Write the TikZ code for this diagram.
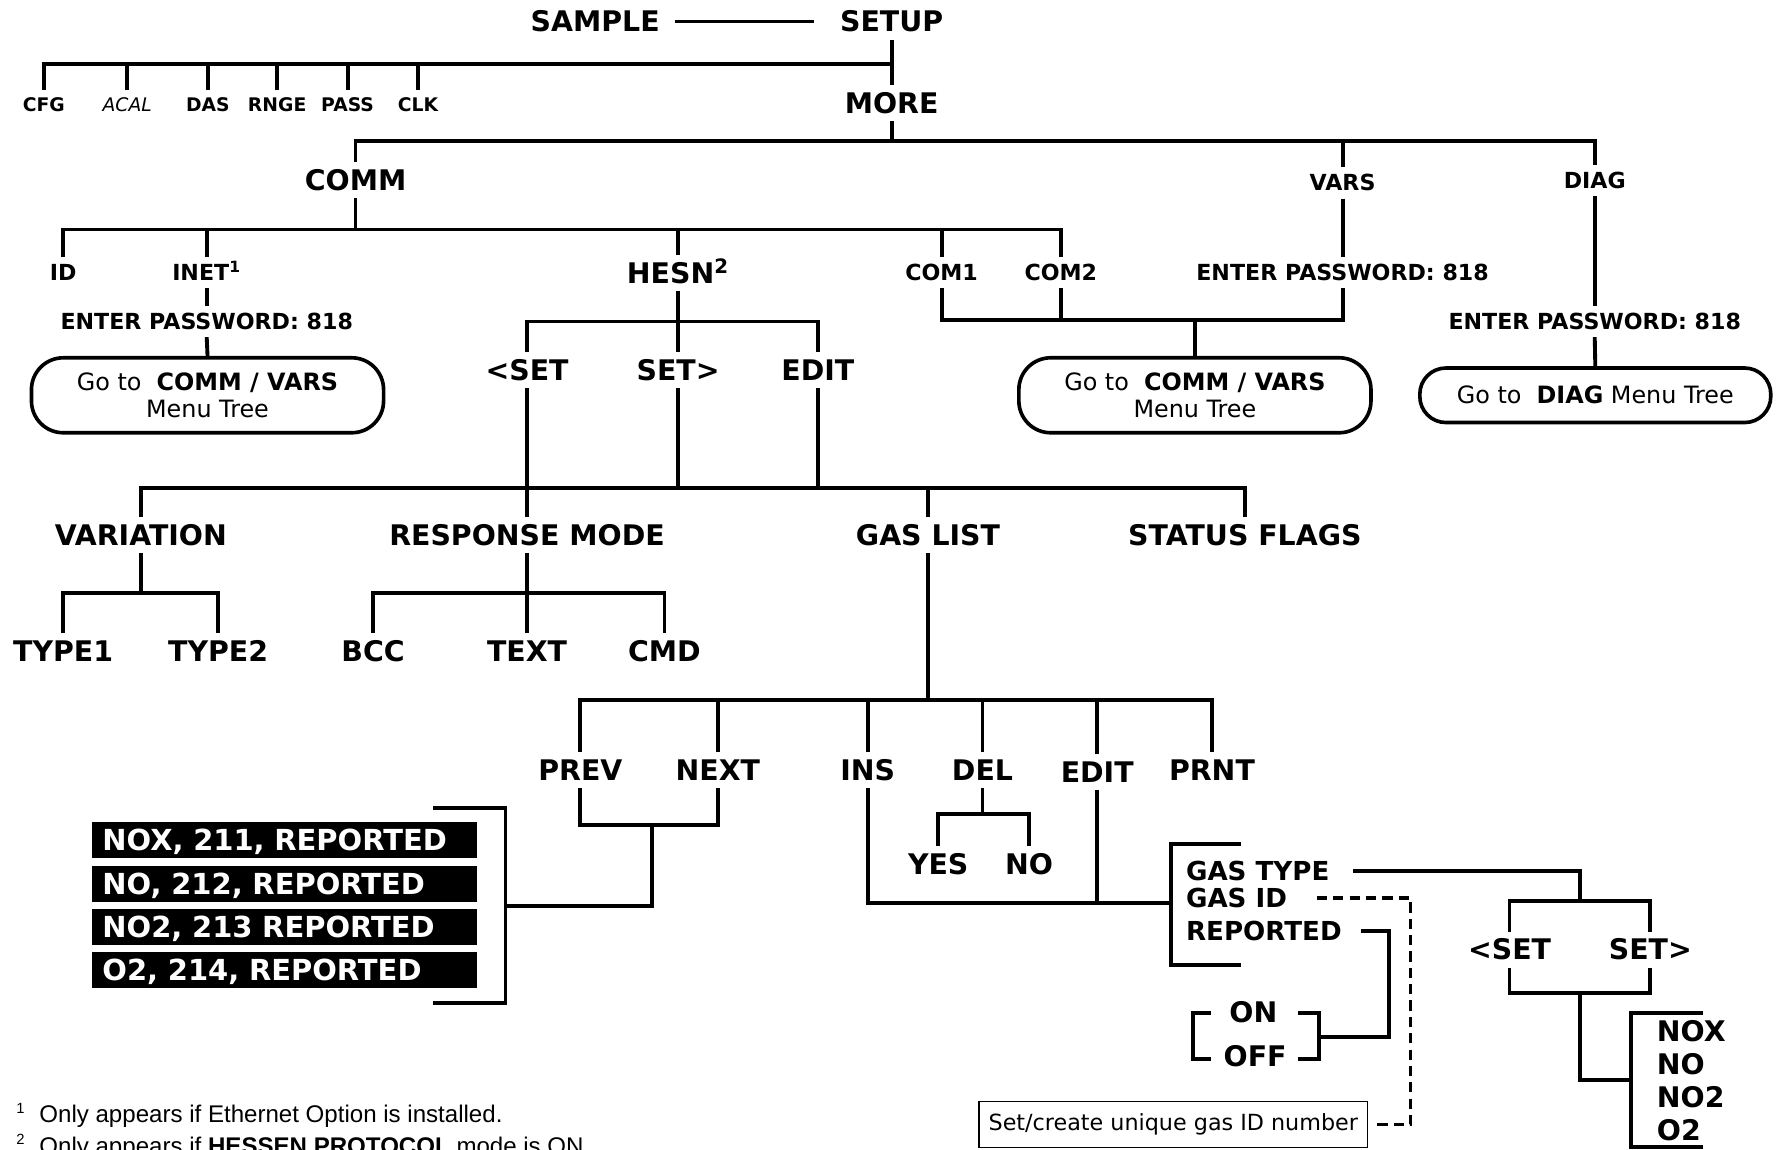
\documentclass[tikz,border=0pt]{standalone}
\usepackage{fontspec}
\setmainfont{DejaVu Sans}
\newfontfamily\notefont{Liberation Sans}

\begin{document}
\begin{tikzpicture}[x=0.5pt,y=-0.5pt,line width=1.7pt,
          lblbig/.style={font=\bfseries\fontsize{12.5}{15}\selectfont,inner sep=2.5pt,text height=9.1pt,text depth=0pt},
          lblmid/.style={font=\bfseries\fontsize{9.75}{12}\selectfont,inner sep=2.5pt,text height=7.1pt,text depth=0pt},
          lblsml/.style={font=\bfseries\fontsize{8.25}{10}\selectfont,inner sep=2.5pt,text height=6pt,text depth=0pt},
          lblitem/.style={font=\bfseries\fontsize{11.5}{14}\selectfont,inner sep=2.5pt,text height=8.4pt,text depth=0pt,anchor=west},
          gasrow/.style={fill=black,text=white,anchor=west,font=\bfseries\fontsize{12.75}{15}\selectfont,text width=160pt,inner xsep=4.75pt,minimum height=15.75pt,text height=9.3pt,text depth=0pt},
          gobox/.style={draw,rounded corners=14pt,line width=1.6pt,minimum width=155pt,minimum height=33pt,align=center,font=\fontsize{10.5}{12}\selectfont},
          footnote/.style={anchor=base west,inner sep=0pt,font=\notefont\fontsize{10.6}{12}\selectfont},
          fnmark/.style={anchor=base,inner sep=0pt,font=\notefont\fontsize{6.5}{7}\selectfont}]
          \path[use as bounding box,fill=white] (0,0) rectangle (1568,1012);

          \node[lblbig] (SAMPLE) at (524,19) {SAMPLE};
          \node[lblbig] (SETUP) at (785,19) {SETUP};
          \node[lblsml] (CFG) at (38.5,92) {CFG};
          \node[lblsml,font=\itshape\fontsize{8.25}{10}\selectfont] (ACAL) at (112,92) {ACAL};
          \node[lblsml] (DAS) at (183,92) {DAS};
          \node[lblsml] (RNGE) at (244,92) {RNGE};
          \node[lblsml] (PASS) at (306,92) {PASS};
          \node[lblsml] (CLK) at (368,92) {CLK};
          \node[lblbig] (MORE) at (785,91) {MORE};
          \node[lblbig] (COMM) at (313,158.5) {COMM};
          \node[lblmid] (VARS) at (1182,161) {VARS};
          \node[lblmid] (DIAG) at (1404,159) {DIAG};
          \node[lblmid] (ID) at (55.6,240) {ID};
          \node[lblmid] (INET) at (182,240) {INET\textsuperscript{1}};
          \node[lblbig] (HESN) at (597,240.5) {HESN\textsuperscript{2}};
          \node[lblmid] (COM1) at (829,240) {COM1};
          \node[lblmid] (COM2) at (934,240) {COM2};
          \node[lblmid] (PW1) at (182,283) {ENTER PASSWORD: 818};
          \node[lblmid] (PW2) at (1182,240) {ENTER PASSWORD: 818};
          \node[lblmid] (PW3) at (1404,283) {ENTER PASSWORD: 818};
          \node[gobox] (BOX1) at (182.7,348) {Go to~ \textbf{COMM / VARS}\\Menu Tree};
          \node[gobox] (BOX2) at (1052,348) {Go to~ \textbf{COMM / VARS}\\Menu Tree};
          \node[gobox,rounded corners=11.5pt,minimum width=154.5pt,minimum height=24pt] (BOX3) at (1404.5,348) {Go to~ \textbf{DIAG} Menu Tree};

          \node[lblbig] (SETl) at (464,326) {<SET};
          \node[lblbig] (SETr) at (597,326) {SET>};
          \node[lblbig] (EDIT) at (720,326) {EDIT};
          \node[lblbig] (VARI) at (124,471) {VARIATION};
          \node[lblbig] (RESP) at (464,471) {RESPONSE MODE};
          \node[lblbig] (GASL) at (817,471) {GAS LIST};
          \node[lblbig] (STAT) at (1096,471) {STATUS FLAGS};
          \node[lblbig] (TYPE1) at (55.6,573) {TYPE1};
          \node[lblbig] (TYPE2) at (192,573) {TYPE2};
          \node[lblbig] (BCC) at (328.5,573) {BCC};
          \node[lblbig] (TEXT) at (464,573) {TEXT};
          \node[lblbig] (CMD) at (585,573) {CMD};

          \node[lblbig] (PREV) at (511,678) {PREV};
          \node[lblbig] (NEXT) at (632,678) {NEXT};
          \node[lblbig] (INS) at (764,678) {INS};
          \node[lblbig] (DEL) at (865,678) {DEL};
          \node[lblbig] (EDITg) at (966,680) {EDIT};
          \node[lblbig] (PRNT) at (1067,678) {PRNT};
          \node[lblbig] (YES) at (826,760.5) {YES};
          \node[lblbig] (NOd) at (906,760.5) {NO};
          \node[gasrow] (G1) at (79,739.5) {NOX, 211, REPORTED};
          \node[gasrow] (G2) at (79,778) {NO, 212, REPORTED};
          \node[gasrow] (G3) at (79,816) {NO2, 213 REPORTED};
          \node[gasrow] (G4) at (79,854) {O2, 214, REPORTED};
          \node[lblitem] (GTYPE) at (1037.5,767) {GAS TYPE};
          \node[lblitem] (GID) at (1037.5,790.6) {GAS ID};
          \node[lblitem] (REP) at (1037.5,819.5) {REPORTED};
          \node[lblbig] (ON) at (1103.5,891) {ON};
          \node[lblbig] (OFF) at (1105,930) {OFF};
          \node[lblbig] (SETl2) at (1329,836) {<SET};
          \node[lblbig] (SETr2) at (1453,836) {SET>};
          \node[lblbig,anchor=west] (NOX) at (1452,908) {NOX};
          \node[lblbig,anchor=west] (NOg) at (1452,936.6) {NO};
          \node[lblbig,anchor=west] (NO2) at (1452,965.6) {NO2};
          \node[lblbig,anchor=west] (O2) at (1452,995) {O2};
          \node[draw,line width=0.6pt,minimum width=171pt,minimum height=20pt,inner sep=0pt,font=\fontsize{9.8}{12}\selectfont] (NOTE) at (1033,990) {Set/create unique gas ID number};

          \node[fnmark] (FM1) at (18,980) {1};
          \node[footnote] (FN1) at (33,988) {Only appears if Ethernet Option is installed.};
          \node[fnmark] (FM2) at (18,1008) {2};
          \node[footnote] (FN2) at (33,1016) {Only appears if \textbf{HESSEN PROTOCOL} mode is ON.};

          \draw[line width=1.5pt] ([xshift=3.5pt]SAMPLE.east) -- ([xshift=-8.3pt]SETUP.west);
          \coordinate (jSETUP) at (785,56);
          \draw (SETUP.south) -- (MORE.north);
          \draw (CFG.north) |- (jSETUP);
          \draw (ACAL.north) -- (ACAL.north |- jSETUP);
          \draw (DAS.north) -- (DAS.north |- jSETUP);
          \draw (RNGE.north) -- (RNGE.north |- jSETUP);
          \draw (PASS.north) -- (PASS.north |- jSETUP);
          \draw (CLK.north) -- (CLK.north |- jSETUP);

          \coordinate (jMORE) at (785,124);
          \draw (MORE.south) -- (jMORE);
          \draw (COMM.north) |- (jMORE) -| (DIAG.north);
          \draw (VARS.north) -- (VARS.north |- jMORE);
          \draw (VARS.south) -- (PW2.north);
          \draw (DIAG.south) -- (PW3.north);
          \draw (PW3.south) -- (BOX3.north);

          \coordinate (jCOMM) at (313,202);
          \draw (COMM.south) -- (jCOMM);
          \draw (ID.north) |- (jCOMM) -| (COM2.north);
          \draw (INET.north) -- (INET.north |- jCOMM);
          \draw (HESN.north) -- (HESN.north |- jCOMM);
          \draw (COM1.north) -- (COM1.north |- jCOMM);
          \draw (INET.south) -- (PW1.north);
          \draw (PW1.south) -- (BOX1.north);

          \coordinate (jCOM) at (1052,282);
          \draw (COM1.south) |- (jCOM) -| (PW2.south);
          \draw (COM2.south) -- (COM2.south |- jCOM);
          \draw (jCOM) -- (BOX2.north);

          \coordinate (jHESN) at (597,283);
          \draw (HESN.south) -- (SETr.north);
          \draw (SETl.north) |- (jHESN) -| (EDIT.north);

          \coordinate (jSET) at (464,430);
          \draw (SETl.south) -- (RESP.north);
          \draw (VARI.north) |- (jSET) -| (STAT.north);
          \draw (SETr.south) -- (SETr.south |- jSET);
          \draw (EDIT.south) -- (EDIT.south |- jSET);
          \draw (GASL.north) -- (GASL.north |- jSET);

          \coordinate (jVARI) at (124,522);
          \draw (VARI.south) -- (jVARI);
          \draw (TYPE1.north) |- (jVARI) -| (TYPE2.north);
          \coordinate (jRESP) at (464,522);
          \draw (RESP.south) -- (TEXT.north);
          \draw (BCC.north) |- (jRESP) -| (CMD.north);

          \coordinate (jGASL) at (817,616.5);
          \draw (GASL.south) -- (jGASL);
          \draw (PREV.north) |- (jGASL) -| (PRNT.north);
          \draw (NEXT.north) -- (NEXT.north |- jGASL);
          \draw (INS.north) -- (INS.north |- jGASL);
          \draw (DEL.north) -- (DEL.north |- jGASL);
          \draw (EDITg.north) -- (EDITg.north |- jGASL);

          \coordinate (jPN) at (574,726);
          \coordinate (jLIST) at (445,798);
          \draw (PREV.south) |- (jPN) -| (NEXT.south);
          \draw (jPN) |- (jLIST);
          \draw (381.6,711.6) -| (445,883) -- (381.6,883);

          \coordinate (jDEL) at (865,716.6);
          \draw (DEL.south) -- (jDEL);
          \draw (YES.north) |- (jDEL) -| (NOd.north);

          \coordinate (jITEM) at (1031,795);
          \draw (INS.south) |- (jITEM);
          \draw (EDITg.south) -- (EDITg.south |- jITEM);
          \draw (1093,743) -| (1031,849.6) -- (1093,849.6);

          \coordinate (jTYPE) at (1391,793);
          \draw ([xshift=7pt]GTYPE.east) -| (jTYPE);
          \draw (SETl2.north) |- (jTYPE) -| (SETr2.north);
          \coordinate (jSET2) at (1391,874);
          \coordinate (jNOX) at (1436,951);
          \draw (SETl2.south) |- (jSET2) -| (SETr2.south);
          \draw (jSET2) |- (jNOX);
          \draw (1499,892) -| (1436,1010) -- (1499,1010);

          \coordinate (jREP) at (1223,913);
          \coordinate (jONOFF) at (1161,913);
          \draw ([xshift=5pt]REP.east) -| (jREP) -- (jONOFF);
          \draw (1143,892) -| (1161,932) -- (1143,932);
          \draw (1066,892) -| (1050.6,932) -- (1066,932);

          \coordinate (jID) at (1242,990);
          \draw[line width=1.5pt,dash pattern=on 4.5pt off 2.7pt] ([xshift=9.8pt]GID.east) -| (jID) -- ([xshift=2.5pt]NOTE.east);
        \end{tikzpicture}
\end{document}
